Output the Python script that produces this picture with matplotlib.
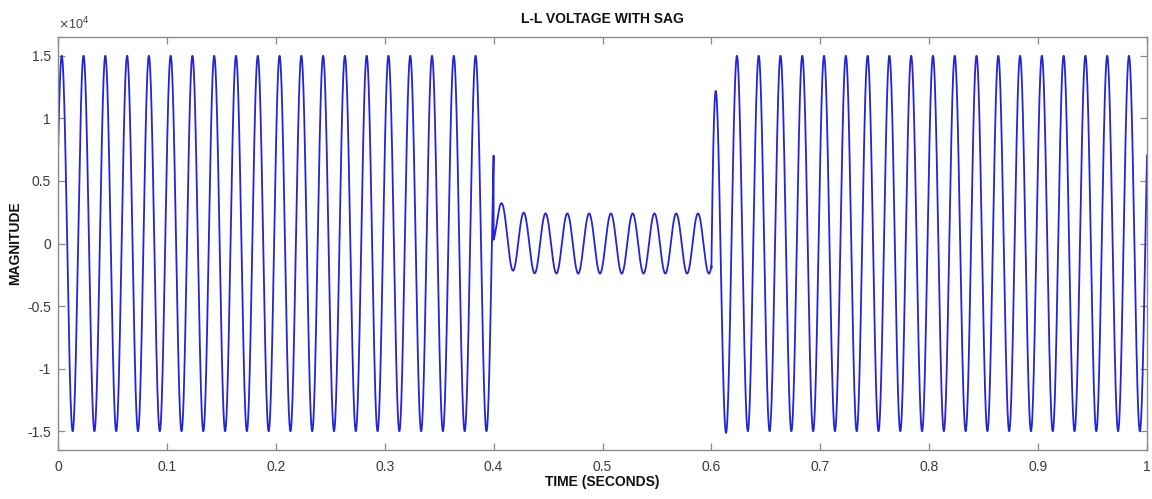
import numpy as np
import matplotlib
matplotlib.use("Agg")
import matplotlib.pyplot as plt

# ---- data ----
freq_hz = 50.0
segment_start = [0.0, 0.4, 0.6]          # s
segment_end = [0.4, 0.6, 1.0001]         # s
segment_amp = [1.5e4, 0.24e4, 1.5e4]     # peak magnitude
segment_phase_deg = [28.0, -48.6, 28.0]  # phase of each segment
transient_offset = [0.0, 0.21e4, -0.9e4] # decaying offset at segment start
transient_tau = [1.0, 0.008, 0.0032]     # s

x_ticks = [0, 0.1, 0.2, 0.3, 0.4, 0.5, 0.6, 0.7, 0.8, 0.9, 1.0]
x_tick_labels = ["0", "0.1", "0.2", "0.3", "0.4", "0.5", "0.6", "0.7", "0.8", "0.9", "1"]
y_ticks = [-1.5e4, -1e4, -0.5e4, 0, 0.5e4, 1e4, 1.5e4]
y_tick_labels = ["-1.5", "-1", "-0.5", "0", "0.5", "1", "1.5"]

# ---- build waveform ----
t = np.linspace(0.0, 1.0, 200001)
v = np.zeros_like(t)
for s, e, a, ph, d0, tau in zip(segment_start, segment_end, segment_amp,
                                 segment_phase_deg, transient_offset, transient_tau):
    m = (t >= s) & (t < e)
    tt = t[m]
    v[m] = a * np.sin(2 * np.pi * freq_hz * tt + np.deg2rad(ph)) + d0 * np.exp(-(tt - s) / tau)

plt.rcParams['font.family'] = ['Liberation Sans', 'DejaVu Sans']

fig = plt.figure(figsize=(11.52, 4.99), dpi=100)
ax = fig.add_axes([58 / 1152, 1 - 450 / 499, (1147 - 58) / 1152, (450 - 37) / 499])

ax.plot(t, v, color='#2424d6', lw=1.3)

ax.set_xlim(0, 1)
ax.set_ylim(-1.65e4, 1.65e4)
ax.set_xticks(x_ticks)
ax.set_xticklabels(x_tick_labels)
ax.set_yticks(y_ticks)
ax.set_yticklabels(y_tick_labels)

axis_col = '#8a8a8a'
for sp in ax.spines.values():
    sp.set_color(axis_col)
    sp.set_linewidth(1.0)
ax.tick_params(direction='in', length=5, width=0.9, color=axis_col,
               top=True, right=True, labelsize=10, labelcolor='#3a3a3a')
ax.tick_params(axis='x', pad=7)
ax.tick_params(axis='y', pad=5)

ax.set_title("L-L VOLTAGE WITH SAG", fontsize=10, fontweight='bold', pad=10, color='#111111')
ax.set_xlabel("TIME (SECONDS)", fontsize=10, fontweight='bold', labelpad=1, color='#111111')
ax.set_ylabel("MAGNITUDE", fontsize=10, fontweight='bold', labelpad=4, color='#111111')
ax.text(0.0, 1.012, r"$\times$10$^{4}$", transform=ax.transAxes, fontsize=9,
        color='#444444', ha='left', va='bottom')

fig.savefig("out.png", dpi=100)
